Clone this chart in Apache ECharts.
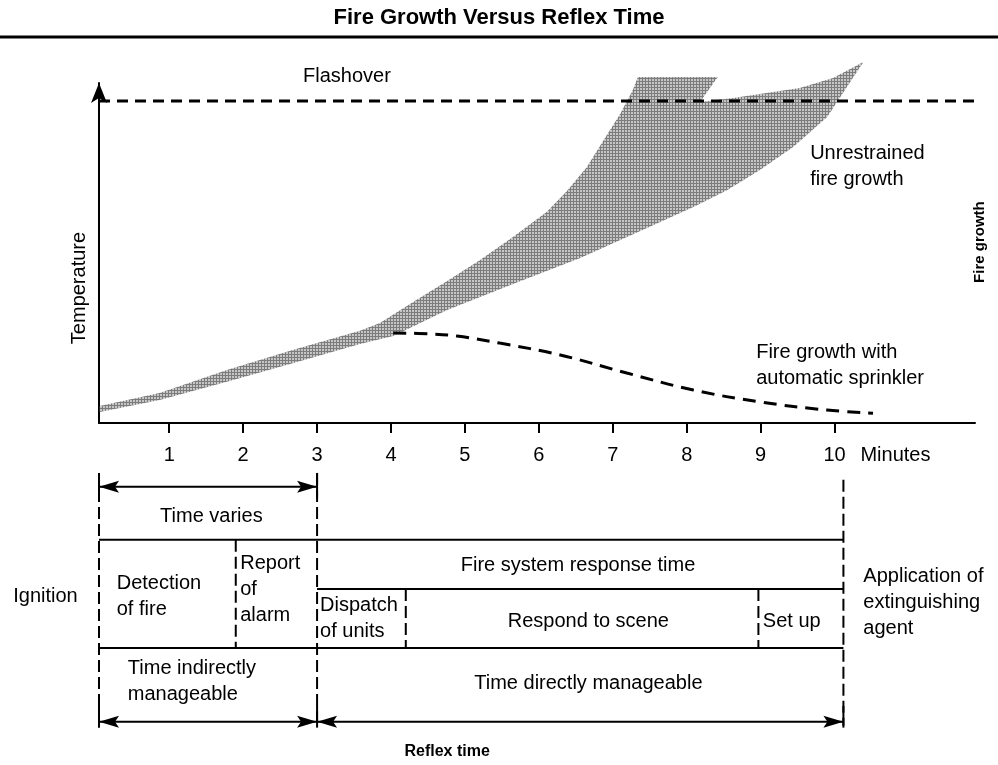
<!DOCTYPE html>
<html lang="en" style="height: 100%">

<head>
  <meta charset="utf-8" />
</head>

<body style="height: 100%; margin: 0; background: #fff">
  <div id="container" style="width: 998px; height: 765px;"></div>

  <script type="text/javascript" src="https://cdn.jsdelivr.net/npm/echarts@6/dist/echarts.min.js"></script>

  <script type="text/javascript">
    // ---- fire growth chart (x: minutes, y: temperature, arbitrary units) ----
    var tickMinutes = [1, 2, 3, 4, 5, 6, 7, 8, 9, 10];
    var flashoverLevel = 94.7;

    // lower / right edge of the shaded "unrestrained" band
    var bandLower = [
      [0.06, 3.2], [0.87, 6.8], [1.78, 12.1], [2.67, 17.6], [3.58, 23.2], [4.03, 25.6],
      [4.76, 33.2], [5.65, 40.9], [6.56, 48.5], [7.44, 57.1], [8.09, 63.5], [8.55, 68.5],
      [8.99, 74.4], [9.44, 81.2], [9.90, 90.0], [10.39, 106.2]
    ];
    // upper / left edge, incl. the notch at the top
    var bandUpper = [
      [0.06, 5.0], [0.87, 8.8], [1.78, 15.6], [2.67, 21.5], [3.58, 27.1], [3.85, 29.4],
      [4.30, 35.6], [4.76, 41.8], [5.20, 47.9], [5.65, 54.7], [6.11, 62.1], [6.38, 68.2],
      [6.65, 75.3], [6.92, 84.7], [7.10, 90.9], [7.27, 97.9], [7.34, 101.8], [8.42, 101.8],
      [8.18, 94.4], [8.63, 95.6], [9.53, 98.5], [9.98, 101.5], [10.39, 106.2]
    ];
    // fire growth with automatic sprinkler
    var sprinkler = [
      [4.03, 26.5], [4.53, 26.2], [4.89, 25.6], [5.47, 23.5], [6.29, 20.0], [7.19, 14.7],
      [8.09, 9.7], [8.99, 6.2], [9.90, 3.8], [10.52, 2.9]
    ];

    // ---- timeline diagram (x: minutes, y: row) ----
    var hLines = [[0.05, 10.12, 7.1], [3.0, 10.12, 12.1], [0.05, 10.12, 18.1]];
    var vDashed = [
      [0.05, 0.3, 26.0], [3.0, 0.3, 26.0], [10.12, 1.0, 26.0],
      [1.9, 7.1, 18.1], [4.2, 12.1, 18.1], [8.97, 12.1, 18.1]
    ];
    var vSolid = [[0.05, 0.3, 2.8], [3.0, 0.3, 2.8], [0.05, 24.0, 26.2], [3.0, 24.0, 26.2], [10.12, 24.0, 26.2]];
    var arrows = [[0.05, 3.0, 1.7], [0.05, 3.0, 25.6], [3.0, 10.12, 25.6]];

    // annotations: [text, x, y, align]
    var chartNotes = [
      ['Flashover', 2.81, 101.8, 'left'],
      ['Unrestrained\nfire growth', 9.67, 75.4, 'left'],
      ['Fire growth with\nautomatic sprinkler', 8.94, 16.9, 'left'],
      ['Minutes', 10.35, -9.7, 'left']
    ];
    var sideNotes = [
      ['Temperature', -0.22, 39.7, 'normal', 20],
      ['Fire growth', 11.97, 53.2, 'bold', 15]
    ];
    var timeNotes = [
      ['Time varies', 1.57, 4.7, 'center'],
      ['Ignition', -1.11, 12.9, 'left'],
      ['Detection\nof fire', 0.29, 12.9, 'left'],
      ['Report\nof\nalarm', 1.96, 12.2, 'left'],
      ['Fire system response time', 6.53, 9.7, 'center'],
      ['Dispatch\nof units', 3.04, 15.15, 'left'],
      ['Respond to scene', 6.67, 15.4, 'center'],
      ['Set up', 9.03, 15.4, 'left'],
      ['Application of\nextinguishing\nagent', 10.39, 13.5, 'left'],
      ['Time indirectly\nmanageable', 0.44, 21.5, 'left'],
      ['Time directly manageable', 6.67, 21.7, 'center']
    ];
    var boldNotes = [['Reflex time', 4.76, 28.6, 'center']];

    var FONT = '"Liberation Sans", Arial, Helvetica, sans-serif';

    // stippled grey fill like the scanned original
    function makeStipple() {
      var c = document.createElement('canvas');
      c.width = 3;
      c.height = 3;
      var ctx = c.getContext('2d');
      ctx.fillStyle = '#c6c6c6';
      ctx.fillRect(0, 0, 3, 3);
      ctx.fillStyle = '#7c7c7c';
      ctx.fillRect(0, 0, 3, 1);
      ctx.fillRect(0, 0, 1, 3);
      return c;
    }
    var stipple = { image: makeStipple(), repeat: 'repeat' };

    function textSeries(notes, xIdx, yIdx, weight, size) {
      return {
        type: 'custom',
        xAxisIndex: xIdx,
        yAxisIndex: yIdx,
        silent: true,
        z: 5,
        data: notes.map(function (n) { return [n[1], n[2]]; }),
        renderItem: function (params, api) {
          var n = notes[params.dataIndex];
          var p = api.coord([api.value(0), api.value(1)]);
          return {
            type: 'text',
            x: p[0],
            y: p[1],
            style: {
              text: n[0],
              fill: '#000',
              fontSize: size,
              fontWeight: weight,
              fontFamily: FONT,
              lineHeight: 26,
              align: n[3],
              verticalAlign: 'middle'
            }
          };
        }
      };
    }

    function headPoints(tip, dir) {
      var L = 20, W = 12;
      return [
        [tip[0], tip[1]],
        [tip[0] + dir * L, tip[1] - W / 2],
        [tip[0] + dir * L * 0.8, tip[1]],
        [tip[0] + dir * L, tip[1] + W / 2]
      ];
    }

    var dom = document.getElementById('container');
    var myChart = echarts.init(dom, null, { renderer: 'canvas' });

    var option = {
      backgroundColor: '#fff',
      animation: false,
      title: {
        text: 'Fire Growth Versus Reflex Time',
        left: 'center',
        top: 2,
        textStyle: { fontSize: 22, fontWeight: 'bold', color: '#000', fontFamily: FONT }
      },
      graphic: [
        {
          type: 'line',
          shape: { x1: 0, y1: 37, x2: 998, y2: 37 },
          style: { stroke: '#000', lineWidth: 3 }
        }
      ],
      grid: [
        { left: 99, width: 876, top: 83, height: 340 },
        { left: 99, width: 876, top: 470, height: 300 }
      ],
      xAxis: [
        {
          type: 'value',
          gridIndex: 0,
          min: 0.05,
          max: 11.9,
          axisLine: { lineStyle: { color: '#000', width: 2 } },
          axisTick: { customValues: tickMinutes, length: 10, lineStyle: { color: '#000', width: 2 } },
          axisLabel: {
            customValues: tickMinutes,
            margin: 22,
            color: '#000',
            fontSize: 20,
            fontFamily: FONT
          },
          splitLine: { show: false }
        },
        {
          type: 'value',
          gridIndex: 1,
          min: 0.05,
          max: 11.9,
          show: false
        }
      ],
      yAxis: [
        {
          type: 'value',
          gridIndex: 0,
          min: 0,
          max: 100,
          axisLine: {
            show: true,
            symbol: ['none', 'arrow'],
            symbolSize: [12, 20],
            lineStyle: { color: '#000', width: 2 }
          },
          axisTick: { show: false },
          axisLabel: { show: false },
          splitLine: { show: false }
        },
        {
          type: 'value',
          gridIndex: 1,
          min: 0,
          max: 30,
          inverse: true,
          show: false
        }
      ],
      series: [
        // shaded band
        {
          type: 'custom',
          xAxisIndex: 0,
          yAxisIndex: 0,
          silent: true,
          z: 1,
          data: [0],
          renderItem: function (params, api) {
            var pts = bandLower.concat(bandUpper.slice().reverse()).map(function (p) {
              return api.coord(p);
            });
            return { type: 'polygon', shape: { points: pts }, style: { fill: stipple } };
          }
        },
        // flashover
        {
          type: 'line',
          xAxisIndex: 0,
          yAxisIndex: 0,
          symbol: 'none',
          silent: true,
          z: 3,
          clip: false,
          data: [[0.05, flashoverLevel], [11.9, flashoverLevel]],
          lineStyle: { color: '#000', width: 3, type: [11, 7] }
        },
        // sprinkler curve
        {
          type: 'line',
          xAxisIndex: 0,
          yAxisIndex: 0,
          symbol: 'none',
          smooth: 0.4,
          silent: true,
          z: 3,
          data: sprinkler,
          lineStyle: { color: '#000', width: 3, type: [13, 8] }
        },
        textSeries(chartNotes, 0, 0, 'normal', 20),
        // rotated labels
        {
          type: 'custom',
          xAxisIndex: 0,
          yAxisIndex: 0,
          silent: true,
          z: 5,
          data: sideNotes.map(function (n) { return [n[1], n[2]]; }),
          renderItem: function (params, api) {
            var n = sideNotes[params.dataIndex];
            var p = api.coord([api.value(0), api.value(1)]);
            return {
              type: 'text',
              x: p[0],
              y: p[1],
              rotation: Math.PI / 2,
              style: {
                text: n[0],
                fill: '#000',
                fontSize: n[4],
                fontWeight: n[3],
                fontFamily: FONT,
                align: 'center',
                verticalAlign: 'middle'
              }
            };
          }
        },
        // timeline: horizontal rules
        {
          type: 'custom',
          xAxisIndex: 1,
          yAxisIndex: 1,
          silent: true,
          data: hLines,
          renderItem: function (params, api) {
            var a = api.coord([api.value(0), api.value(2)]);
            var b = api.coord([api.value(1), api.value(2)]);
            return {
              type: 'line',
              shape: { x1: a[0], y1: a[1], x2: b[0], y2: b[1] },
              style: { stroke: '#000', lineWidth: 2 }
            };
          }
        },
        // timeline: dashed verticals
        {
          type: 'custom',
          xAxisIndex: 1,
          yAxisIndex: 1,
          silent: true,
          data: vDashed,
          renderItem: function (params, api) {
            var a = api.coord([api.value(0), api.value(1)]);
            var b = api.coord([api.value(0), api.value(2)]);
            return {
              type: 'line',
              shape: { x1: a[0], y1: a[1], x2: b[0], y2: b[1] },
              style: { stroke: '#000', lineWidth: 2, lineDash: [12, 5] }
            };
          }
        },
        // timeline: solid end bars
        {
          type: 'custom',
          xAxisIndex: 1,
          yAxisIndex: 1,
          silent: true,
          data: vSolid,
          renderItem: function (params, api) {
            var a = api.coord([api.value(0), api.value(1)]);
            var b = api.coord([api.value(0), api.value(2)]);
            return {
              type: 'line',
              shape: { x1: a[0], y1: a[1], x2: b[0], y2: b[1] },
              style: { stroke: '#000', lineWidth: 2 }
            };
          }
        },
        // timeline: double arrows
        {
          type: 'custom',
          xAxisIndex: 1,
          yAxisIndex: 1,
          silent: true,
          data: arrows,
          renderItem: function (params, api) {
            var a = api.coord([api.value(0), api.value(2)]);
            var b = api.coord([api.value(1), api.value(2)]);
            return {
              type: 'group',
              children: [
                {
                  type: 'line',
                  shape: { x1: a[0], y1: a[1], x2: b[0], y2: b[1] },
                  style: { stroke: '#000', lineWidth: 2 }
                },
                { type: 'polygon', shape: { points: headPoints(a, 1) }, style: { fill: '#000' } },
                { type: 'polygon', shape: { points: headPoints(b, -1) }, style: { fill: '#000' } }
              ]
            };
          }
        },
        textSeries(timeNotes, 1, 1, 'normal', 20),
        textSeries(boldNotes, 1, 1, 'bold', 16)
      ]
    };

    if (option && typeof option === 'object') {
      myChart.setOption(option);
    }
    window.addEventListener('resize', myChart.resize);
  </script>
</body>

</html>
